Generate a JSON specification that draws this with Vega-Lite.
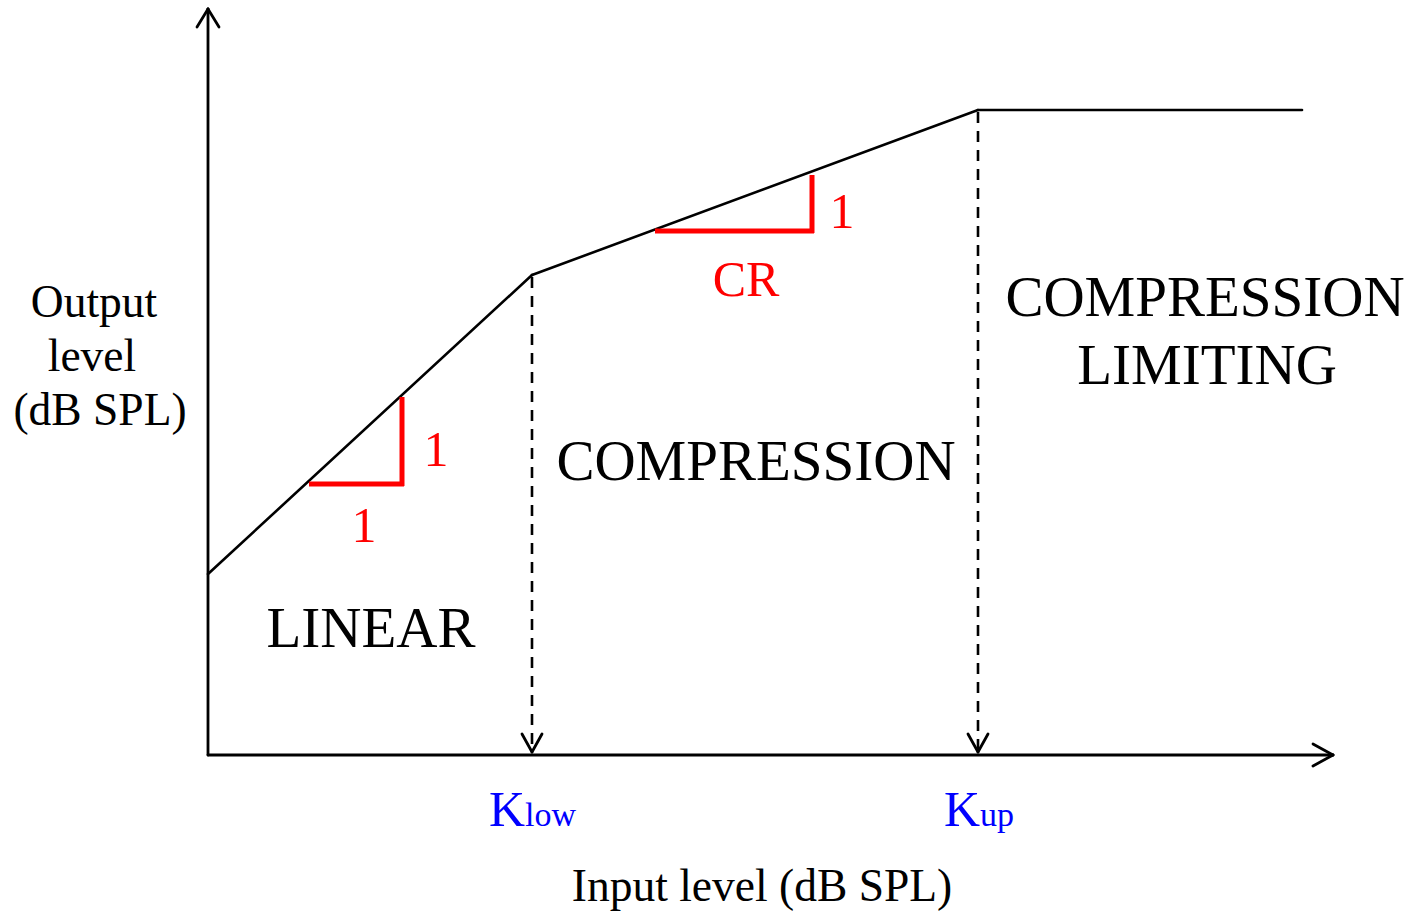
{
  "$schema": "https://vega.github.io/schema/vega-lite/v6.json",
  "width": 1410,
  "height": 913,
  "autosize": {"type": "fit", "contains": "padding"},
  "padding": 0,
  "background": "white",
  "config": {"view": {"stroke": null}},
  "datasets": {
    "axes": [
      {"x": 208, "y": 755, "x2": 208, "y2": 9},
      {"x": 197, "y": 27, "x2": 208, "y2": 9},
      {"x": 219, "y": 27, "x2": 208, "y2": 9},
      {"x": 208, "y": 755, "x2": 1333, "y2": 755},
      {"x": 1313, "y": 744, "x2": 1333, "y2": 755},
      {"x": 1313, "y": 766, "x2": 1333, "y2": 755},
      {"x": 522, "y": 734, "x2": 532, "y2": 752},
      {"x": 542, "y": 734, "x2": 532, "y2": 752},
      {"x": 968, "y": 734, "x2": 978, "y2": 752},
      {"x": 988, "y": 734, "x2": 978, "y2": 752}
    ],
    "curve": [
      {"x": 208, "y": 574, "x2": 532, "y2": 275},
      {"x": 532, "y": 275, "x2": 978, "y2": 110},
      {"x": 978, "y": 110, "x2": 1302, "y2": 110}
    ],
    "dashed": [
      {"x": 532, "y": 277, "x2": 532, "y2": 750},
      {"x": 978, "y": 112, "x2": 978, "y2": 750}
    ],
    "red": [
      {"x": 309, "y": 484, "x2": 404, "y2": 484},
      {"x": 402, "y": 486, "x2": 402, "y2": 397},
      {"x": 655, "y": 231, "x2": 814, "y2": 231},
      {"x": 812, "y": 233, "x2": 812, "y2": 175}
    ],
    "regions": [
      {"x": 371, "y": 647, "label": "LINEAR"},
      {"x": 756, "y": 480, "label": "COMPRESSION"},
      {"x": 1205, "y": 316, "label": "COMPRESSION"},
      {"x": 1207, "y": 384, "label": "LIMITING"}
    ],
    "axisTitles": [
      {"x": 94, "y": 317, "label": "Output"},
      {"x": 92, "y": 371, "label": "level"},
      {"x": 100, "y": 425, "label": "(dB SPL)"},
      {"x": 762, "y": 901, "label": "Input level (dB SPL)"}
    ],
    "ratios": [
      {"x": 364, "y": 542, "label": "1"},
      {"x": 436, "y": 466, "label": "1"},
      {"x": 842, "y": 228, "label": "1"},
      {"x": 746, "y": 296, "label": "CR"}
    ],
    "kneeK": [
      {"x": 525, "y": 826, "label": "K"},
      {"x": 980, "y": 826, "label": "K"}
    ],
    "kneeSub": [
      {"x": 525, "y": 826, "label": "low"},
      {"x": 980, "y": 826, "label": "up"}
    ]
  },
  "encoding": {
    "x": {"field": "x", "type": "quantitative", "scale": {"domain": [0, 1410], "nice": false, "zero": false}, "axis": null},
    "y": {"field": "y", "type": "quantitative", "scale": {"domain": [0, 913], "nice": false, "zero": false, "reverse": true}, "axis": null}
  },
  "layer": [
    {
      "data": {"name": "axes"},
      "mark": {"type": "rule", "color": "black", "strokeWidth": 2.8, "strokeCap": "round"},
      "encoding": {"x2": {"field": "x2"}, "y2": {"field": "y2"}}
    },
    {
      "data": {"name": "curve"},
      "mark": {"type": "rule", "color": "black", "strokeWidth": 2.6, "strokeCap": "round"},
      "encoding": {"x2": {"field": "x2"}, "y2": {"field": "y2"}}
    },
    {
      "data": {"name": "dashed"},
      "mark": {"type": "rule", "color": "black", "strokeWidth": 2.6, "strokeDash": [11, 8]},
      "encoding": {"x2": {"field": "x2"}, "y2": {"field": "y2"}}
    },
    {
      "data": {"name": "red"},
      "mark": {"type": "rule", "color": "#ff0000", "strokeWidth": 5},
      "encoding": {"x2": {"field": "x2"}, "y2": {"field": "y2"}}
    },
    {
      "data": {"name": "regions"},
      "mark": {"type": "text", "font": "Liberation Serif", "fontSize": 57, "color": "black", "align": "center", "baseline": "alphabetic"},
      "encoding": {"text": {"field": "label"}}
    },
    {
      "data": {"name": "axisTitles"},
      "mark": {"type": "text", "font": "Liberation Serif", "fontSize": 45.5, "color": "black", "align": "center", "baseline": "alphabetic"},
      "encoding": {"text": {"field": "label"}}
    },
    {
      "data": {"name": "ratios"},
      "mark": {"type": "text", "font": "Liberation Serif", "fontSize": 50, "color": "#ff0000", "align": "center", "baseline": "alphabetic"},
      "encoding": {"text": {"field": "label"}}
    },
    {
      "data": {"name": "kneeK"},
      "mark": {"type": "text", "font": "Liberation Serif", "fontSize": 50, "color": "#0000ff", "align": "right", "baseline": "alphabetic"},
      "encoding": {"text": {"field": "label"}}
    },
    {
      "data": {"name": "kneeSub"},
      "mark": {"type": "text", "font": "Liberation Serif", "fontSize": 34, "color": "#0000ff", "align": "left", "baseline": "alphabetic"},
      "encoding": {"text": {"field": "label"}}
    }
  ]
}
